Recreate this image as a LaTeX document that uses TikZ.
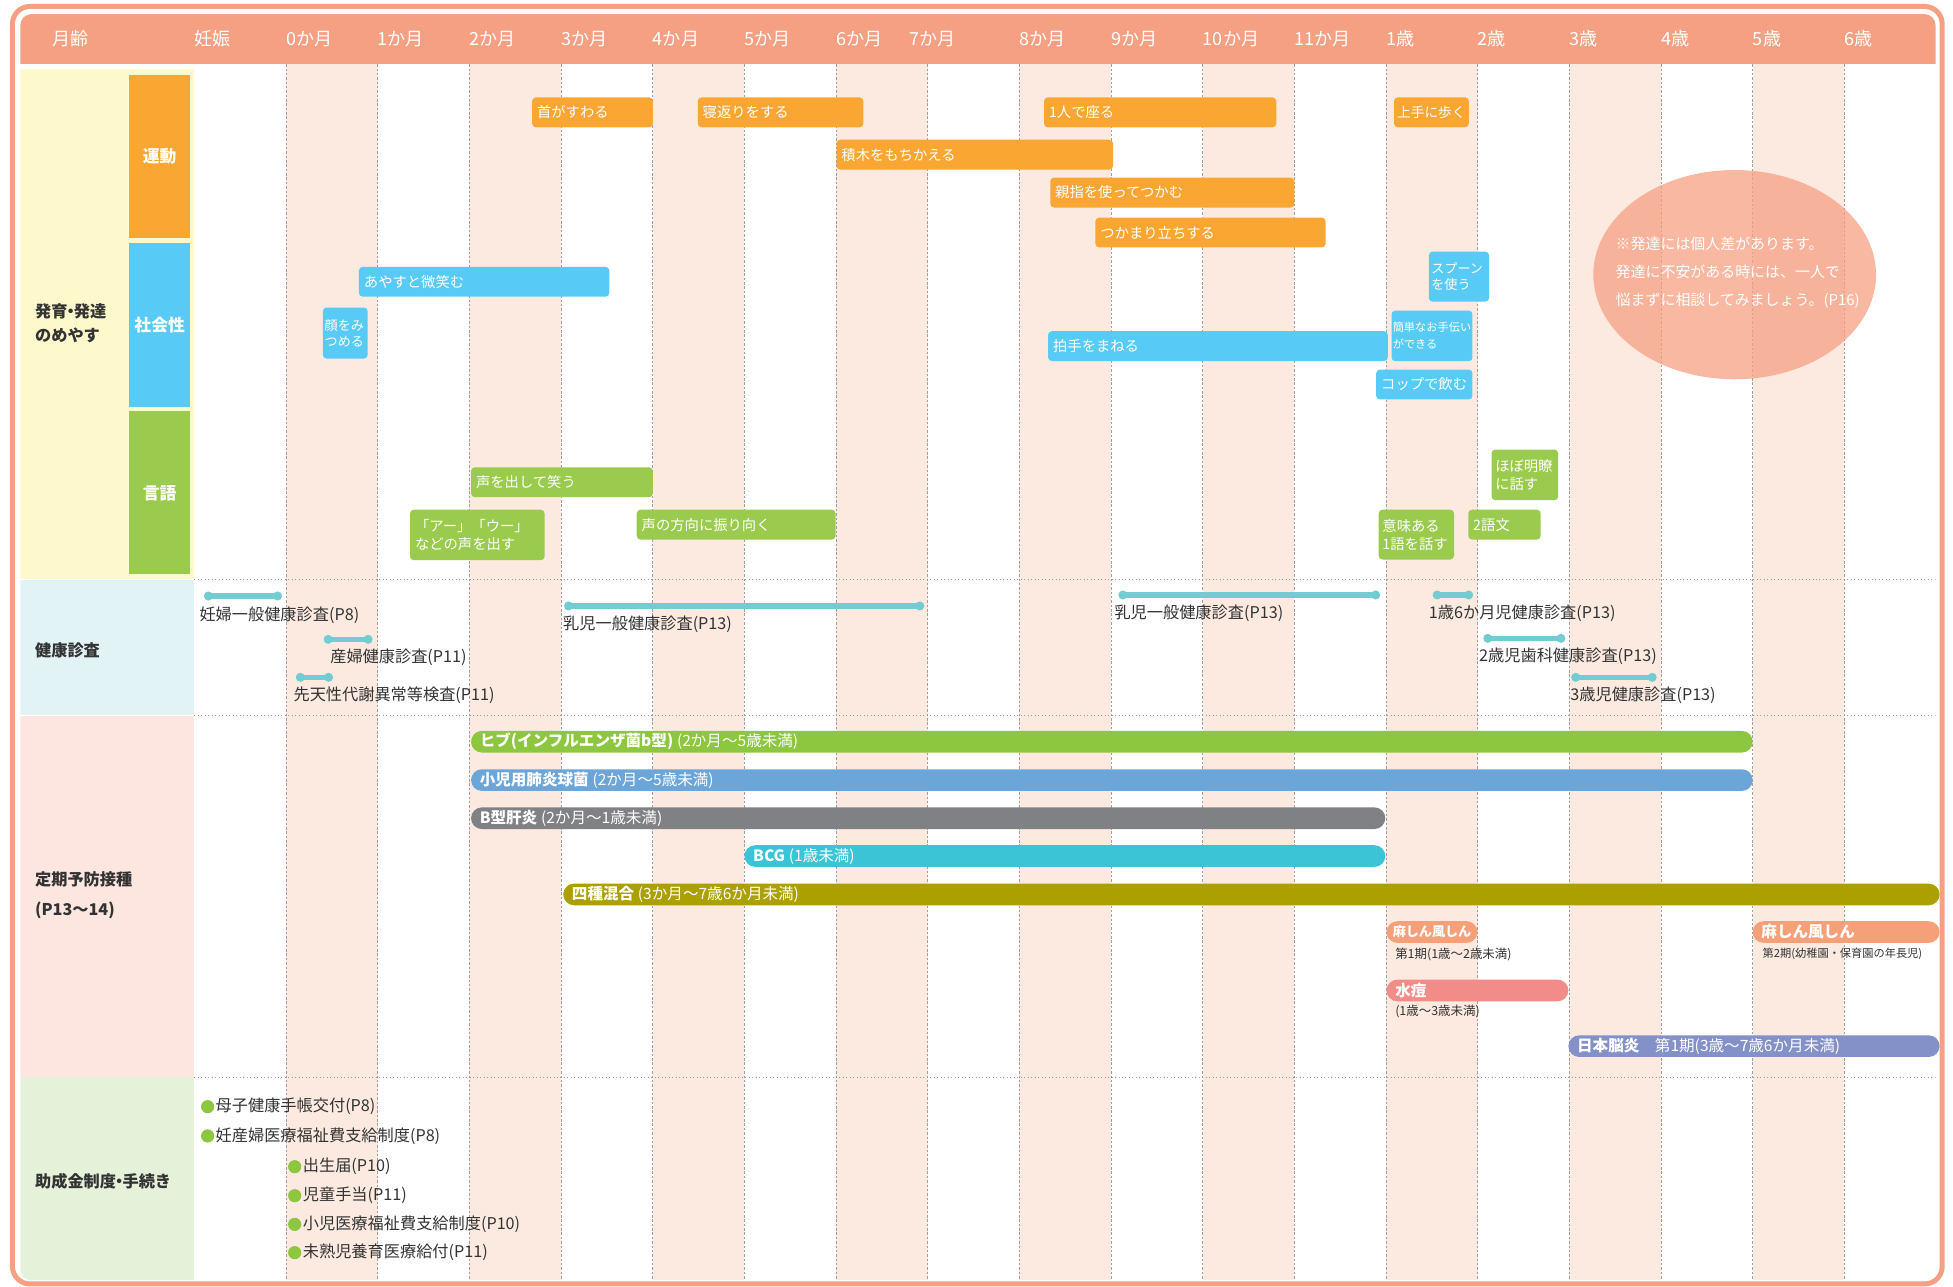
\documentclass[tikz,border=0pt]{standalone}
\usepackage{fontspec}
\setmainfont{Noto Sans CJK JP}
\usepackage{tikz}
\usetikzlibrary{arrows.meta}

\definecolor{hdr}{RGB}{245,160,131}
\definecolor{colshade}{RGB}{252,234,225}
\definecolor{devbg}{RGB}{253,249,204}
\definecolor{motor}{RGB}{249,166,51}
\definecolor{social}{RGB}{87,203,245}
\definecolor{lang}{RGB}{154,203,79}
\definecolor{checkbg}{RGB}{225,243,245}
\definecolor{chk}{RGB}{115,204,210}
\definecolor{vacbg}{RGB}{253,229,224}
\definecolor{helpbg}{RGB}{230,241,218}
\definecolor{helpdot}{RGB}{141,198,63}
\definecolor{txt}{RGB}{51,51,51}
\definecolor{hibc}{RGB}{141,198,63}
\definecolor{haienc}{RGB}{108,166,217}
\definecolor{bkanc}{RGB}{128,129,132}
\definecolor{bcgc}{RGB}{59,195,214}
\definecolor{shishuc}{RGB}{172,159,0}
\definecolor{mashinc}{RGB}{246,160,122}
\definecolor{suitoc}{RGB}{242,140,136}
\definecolor{nouenc}{RGB}{132,144,200}

\begin{document}
\begin{tikzpicture}[
  x=1pt,
  y=-1pt,
  myhead/.style={
    anchor=west,
    inner sep=0pt,
    text=white,
    font=\fontsize{14.5}{16}\selectfont
  },
  mycat/.style={
    text=white,
    font=\bfseries\fontsize{13.5}{15}\selectfont
  },
  mysec/.style={
    anchor=west,
    inner sep=0pt,
    align=left,
    text=txt,
    font=\bfseries\fontsize{13}{19.5}\selectfont
  },
  mybar/.style={
    anchor=north west,
    rounded corners=3pt,
    text=white,
    inner xsep=4pt,
    inner ysep=1pt,
    align=left,
    minimum height=24pt,
    font=\fontsize{11.5}{13.5}\selectfont
  },
  myvac/.style={
    anchor=north west,
    rounded corners=8.7pt,
    text=white,
    inner xsep=7pt,
    inner ysep=0pt,
    align=left,
    minimum height=17.4pt,
    font=\fontsize{12.5}{14}\selectfont
  },
  mycheck/.style={
    draw=chk,
    line width=4.5pt,
    arrows={Circle[length=7pt,width=7pt]-Circle[length=7pt,width=7pt]}
  },
  mylabel/.style={
    anchor=west,
    inner sep=0pt,
    text=txt,
    font=\fontsize{13}{15}\selectfont
  },
  mysmall/.style={
    anchor=west,
    inner sep=0pt,
    text=txt,
    font=\fontsize{10}{12}\selectfont
  },
  mygrid/.style={
    gray!75,
    line width=0.6pt,
    dash pattern=on 2pt off 1.5pt
  },
  mysep/.style={
    gray!80,
    line width=0.8pt,
    dotted
  }
]
\useasboundingbox (0,0) rectangle (1568,1033);
\draw[hdr, line width=4pt, rounded corners=14pt] (10,5.2) rectangle (1559.3,1030.8);

\begin{scope}
\clip[rounded corners=9pt] (16.3,11.3) rectangle (1554,1028);
\fill[hdr] (16.3,11.3) rectangle (1554,51.5);
\foreach \i in {1,3,...,17}
  \fill[colshade] ({156+73.6*\i},51.5) rectangle ({229.6+73.6*\i},1028);
\fill[devbg] (16.3,55.5) rectangle (156,464.5);
\fill[checkbg] (16.3,465.5) rectangle (156,574);
\fill[vacbg] (16.3,574.5) rectangle (156,864.5);
\fill[helpbg] (16.3,865) rectangle (156,1028);
\fill[motor] (103.6,60.2) rectangle (152.7,191.3);
\fill[social] (103.6,195.3) rectangle (152.7,326.5);
\fill[lang] (103.6,330) rectangle (152.7,461);
\foreach \i in {1,...,18}
  \draw[mygrid] ({156+73.6*\i},51.5) -- ({156+73.6*\i},1028);
\draw[mysep] (156,465.5) -- (1554,465.5);
\draw[mysep] (156,574.5) -- (1554,574.5);
\draw[mysep] (156,865) -- (1554,865);
\end{scope}

\foreach \x/\t [count=\n] in {42/月齢,156/妊娠,229.6/0か月,303.2/1か月,376.8/2か月,450.4/3か月,524/4か月,597.6/5か月,671.2/6か月,730/7か月,818.4/8か月,892/9か月,965.6/10か月,1039.2/11か月,1112.8/1歳,1186.4/2歳,1260/3歳,1333.6/4歳,1407.2/5歳,1480.8/6歳}
  \node[myhead] (mon\n) at (\x,31) {\t};

\node[mysec] (hatsuiku) at (28,259.5) {発育\kern-0.3em・\kern-0.3em発達\\のめやす};
\node[mycat] (undo) at (128.2,125.8) {運動};
\node[mycat] (shakai) at (128.2,261) {社会性};
\node[mycat] (gengo) at (128.2,396) {言語};
\node[mysec] (kenshin) at (28,522) {健康診査};
\node[mysec, font=\bfseries\fontsize{13}{24}\selectfont] (yobo) at (28,718.5) {定期予防接種\\(P13〜14)};
\node[mysec] (josei) at (28,948.7) {助成金制度\kern-0.3em・\kern-0.3em手続き};

\node[mybar, fill=motor, text width=89pt] (kubi) at (427,78) {首がすわる};
\node[mybar, fill=motor, text width=125pt] (negaeri) at (560,78) {寝返りをする};
\node[mybar, fill=motor, text width=178.5pt] (suwaru) at (838,78) {1人で座る};
\node[mybar, fill=motor, text width=55pt, inner xsep=2.5pt, font=\fontsize{11}{13}\selectfont] (aruku) at (1119,78) {上手に歩く};
\node[mybar, fill=motor, text width=214pt] (tsumiki) at (671.4,112) {積木をもちかえる};
\node[mybar, fill=motor, text width=188pt] (oyayubi) at (843,142.4) {親指を使ってつかむ};
\node[mybar, fill=motor, text width=176.7pt] (tachi) at (879.3,174.5) {つかまり立ちする};

\node[mybar, fill=social, text width=193pt] (ayasu) at (288,214) {あやすと微笑む};
\node[mybar, fill=social, text width=33pt, inner xsep=1.5pt, minimum height=41pt, font=\fontsize{10.5}{13}\selectfont] (kao) at (259,246.7) {顔をみ\\つめる};
\node[mybar, fill=social, text width=264.7pt] (hakushu) at (841.3,265.7) {拍手をまねる};
\node[mybar, fill=social, text width=44.3pt, inner xsep=2pt, minimum height=40.2pt, font=\fontsize{10.5}{13.5}\selectfont] (spoon) at (1147,201.8) {スプーン\\を使う};
\node[mybar, fill=social, text width=63pt, inner xsep=1pt, minimum height=40.6pt, font=\fontsize{9}{13.5}\selectfont] (otetsudai) at (1117,249.2) {簡単なお手伝い\\ができる};
\node[mybar, fill=social, text width=69.3pt] (cup) at (1104.7,296.5) {コップで飲む};

\node[mybar, fill=lang, text width=138pt] (warau) at (378,375) {声を出して笑う};
\node[mybar, fill=lang, text width=100pt, minimum height=40.6pt, font=\fontsize{11.5}{14.5}\selectfont] (koe) at (329,409) {「アー」「ウー」\\などの声を出す};
\node[mybar, fill=lang, text width=151.7pt] (furimuku) at (511,409) {声の方向に振り向く};
\node[mybar, fill=lang, text width=47.5pt, inner xsep=3pt, minimum height=40.7pt, font=\fontsize{11.5}{14.5}\selectfont] (meiryo) at (1197.3,360.7) {ほぼ明瞭\\に話す};
\node[mybar, fill=lang, text width=54.5pt, inner xsep=3pt, minimum height=40pt, font=\fontsize{11.5}{14.5}\selectfont] (imi) at (1106.7,409) {意味ある\\1語を話す};
\node[mybar, fill=lang, text width=50.2pt] (nigo) at (1178.6,409) {2語文};

\fill[hdr, opacity=0.75] (1392.7,220.5) ellipse [x radius=113.5pt, y radius=84pt];
\node[anchor=west, inner sep=0pt, align=left, text=white, font=\fontsize{12}{22.3}\selectfont] (kojinsa) at (1297,219) {※発達には個人差があります。\\発達に不安がある時には、一人で\\悩まずに相談してみましょう。(P16)};

\draw[mycheck] (163.8,478.5) -- (226.3,478.5);
\node[mylabel] (ninpu) at (160,493.8) {妊婦一般健康診査(P8)};
\draw[mycheck] (260,513.3) -- (299,513.3);
\node[mylabel] (sanpu) at (265,527.8) {産婦健康診査(P11)};
\draw[mycheck] (237.6,543.8) -- (267.3,543.8);
\node[mylabel] (sentensei) at (235.5,558) {先天性代謝異常等検査(P11)};
\draw[mycheck] (453,486.5) -- (742,486.5);
\node[mylabel] (nyuji1) at (452,501) {乳児一般健康診査(P13)};
\draw[mycheck] (898,477.7) -- (1108,477.7);
\node[mylabel] (nyuji2) at (894.6,492.4) {乳児一般健康診査(P13)};
\draw[mycheck] (1150.4,477.7) -- (1182.6,477.7);
\node[mylabel] (sai1) at (1147,492.4) {1歳6か月児健康診査(P13)};
\draw[mycheck] (1191,512.5) -- (1256.7,512.5);
\node[mylabel] (sai2) at (1187.4,526.7) {2歳児歯科健康診査(P13)};
\draw[mycheck] (1261.6,543.8) -- (1330,543.8);
\node[mylabel] (sai3) at (1260.6,558) {3歳児健康診査(P13)};

\node[myvac, fill=hibc, text width=1015pt] (hib) at (378,586.6) {\textbf{ヒブ(インフルエンザ菌b型)}\kern3pt(2か月〜5歳未満)};
\node[myvac, fill=haienc, text width=1015pt] (haien) at (378,617.4) {\textbf{小児用肺炎球菌}\kern3pt(2か月〜5歳未満)};
\node[myvac, fill=bkanc, text width=720pt] (bkan) at (378,648) {\textbf{B型肝炎}\kern3pt(2か月〜1歳未満)};
\node[myvac, fill=bcgc, text width=500.5pt] (bcg) at (597.5,678.4) {\textbf{BCG}\kern3pt(1歳未満)};
\node[myvac, fill=shishuc, text width=1091pt] (shishu) at (452,709.2) {\textbf{四種混合}\kern3pt(3か月〜7歳6か月未満)};
\node[myvac, fill=mashinc, text width=63pt, inner xsep=5pt, font=\bfseries\fontsize{10.5}{12}\selectfont] (mashin1) at (1113,739.4) {麻しん風しん};
\node[mysmall] (ki1) at (1120,766.2) {第1期(1歳〜2歳未満)};
\node[myvac, fill=mashinc, text width=136pt] (mashin2) at (1407,739.4) {\textbf{麻しん風しん}};
\node[mysmall, font=\fontsize{9}{11}\selectfont] (ki2) at (1415,766.2) {第2期(幼稚園・保育園の年長児)};
\node[myvac, fill=suitoc, text width=132pt] (suito) at (1113,786.3) {\textbf{水痘}};
\node[mysmall] (suitoki) at (1120,812.2) {(1歳〜3歳未満)};
\node[myvac, fill=nouenc, text width=284pt] (nouen) at (1259,831) {\textbf{日本脳炎}\quad 第1期(3歳〜7歳6か月未満)};

\fill[helpdot] (166.7,888.5) circle (5.3pt);
\node[mylabel] (boshi) at (173,888.5) {母子健康手帳交付(P8)};
\fill[helpdot] (166.7,912) circle (5.3pt);
\node[mylabel] (ninsanpu) at (173,912) {妊産婦医療福祉費支給制度(P8)};
\fill[helpdot] (236.6,936.7) circle (5.3pt);
\node[mylabel] (shussei) at (243,936.7) {出生届(P10)};
\fill[helpdot] (236.6,960) circle (5.3pt);
\node[mylabel] (jido) at (243,960) {児童手当(P11)};
\fill[helpdot] (236.6,983) circle (5.3pt);
\node[mylabel] (shoni) at (243,983) {小児医療福祉費支給制度(P10)};
\fill[helpdot] (236.6,1005.7) circle (5.3pt);
\node[mylabel] (mijuku) at (243,1005.7) {未熟児養育医療給付(P11)};
\end{tikzpicture}
\end{document}
